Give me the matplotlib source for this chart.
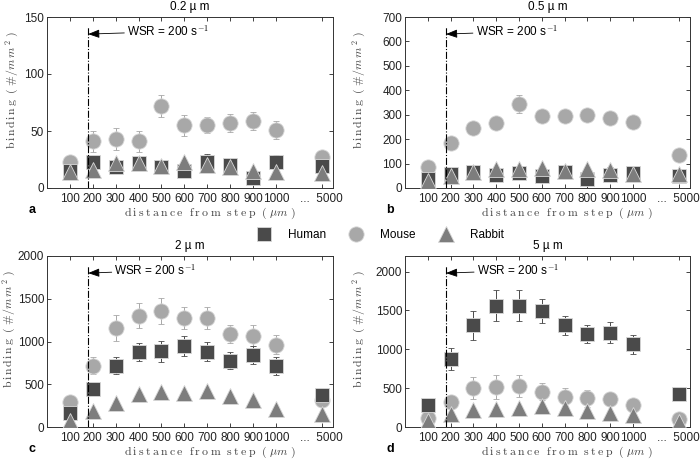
import numpy as np
import matplotlib.pyplot as plt
from matplotlib.lines import Line2D

plt.rcParams['font.family'] = ['Liberation Sans', 'DejaVu Sans']
plt.rcParams['mathtext.fontset'] = 'cm'

# ------------------------------------------------------------------------------
# data: binding (#/mm^2) vs distance from step, per particle size
dist_labels = ['100', '200', '300', '400', '500', '600', '700', '800', '900', '1000', '...  5000']
xpos = [1, 2, 3, 4, 5, 6, 7, 8, 9, 10, 12]

titles = ['0.2 µ m', '0.5 µ m', '2 µ m', '5 µ m']
panel_letters = ['a', 'b', 'c', 'd']

human_02 = [15, 23, 18, 22, 18, 15, 23, 20, 9, 23, 19]
human_02_err = [3, 4, 3, 3, 3, 3, 7, 4, 3, 6, 3]
mouse_02 = [23, 41, 43, 41, 72, 55, 55, 57, 59, 51, 27]
mouse_02_err = [3, 9, 10, 9, 10, 9, 7, 8, 8, 8, 3]
rabbit_02 = [14, 16, 22, 22, 19, 23, 20, 18, 15, 14, 13]
rabbit_02_err = [2, 2, 2, 2, 2, 2, 2, 2, 2, 2, 2]

human_05 = [37, 57, 64, 54, 61, 50, 64, 37, 54, 61, 48]
human_05_err = [8, 10, 12, 10, 12, 10, 10, 8, 10, 10, 8]
mouse_05 = [84, 186, 247, 265, 343, 295, 295, 299, 288, 270, 136]
mouse_05_err = [8, 10, 12, 12, 36, 12, 12, 12, 12, 12, 8]
rabbit_05 = [30, 50, 64, 77, 77, 82, 68, 77, 75, 57, 57]
rabbit_05_err = [5, 8, 10, 10, 10, 10, 10, 10, 10, 8, 8]

human_2 = [163, 447, 718, 874, 885, 944, 882, 777, 843, 718, 377]
human_2_err = [40, 58, 97, 105, 125, 116, 108, 97, 108, 105, 40]
mouse_2 = [291, 718, 1157, 1301, 1359, 1270, 1274, 1087, 1068, 963, 311]
mouse_2_err = [30, 97, 150, 148, 155, 128, 124, 105, 120, 113, 30]
rabbit_2 = [66, 186, 283, 381, 408, 396, 419, 357, 311, 206, 148]
rabbit_2_err = [10, 20, 25, 30, 30, 30, 30, 25, 25, 20, 15]

human_5 = [277, 872, 1306, 1562, 1562, 1489, 1306, 1191, 1213, 1064, 426]
human_5_err = [30, 140, 183, 204, 195, 157, 128, 115, 136, 123, 30]
mouse_5 = [115, 328, 498, 519, 532, 455, 383, 370, 362, 289, 98]
mouse_5_err = [20, 90, 140, 153, 140, 107, 115, 107, 93, 60, 20]
rabbit_5 = [72, 170, 221, 234, 247, 268, 247, 204, 183, 149, 64]
rabbit_5_err = [10, 20, 25, 25, 25, 25, 25, 20, 20, 20, 10]

human = [(human_02, human_02_err), (human_05, human_05_err), (human_2, human_2_err), (human_5, human_5_err)]
mouse = [(mouse_02, mouse_02_err), (mouse_05, mouse_05_err), (mouse_2, mouse_2_err), (mouse_5, mouse_5_err)]
rabbit = [(rabbit_02, rabbit_02_err), (rabbit_05, rabbit_05_err), (rabbit_2, rabbit_2_err), (rabbit_5, rabbit_5_err)]

ylims = [150, 700, 2000, 2200]
yticks = [np.arange(0, 151, 50), np.arange(0, 701, 100), np.arange(0, 2001, 500), np.arange(0, 2001, 500)]
text_x = [3.5, 3.1, 2.95, 3.15]

c_human = '#4a4a4a'
c_mouse = '#a8a8a8'
c_rabbit = '#7d7d7d'

# axes boxes in pixels (left, right, top, bottom) of a 700x459 figure
boxes = [(47, 333, 17, 188), (405, 690, 17, 188), (47, 333, 256, 427), (405, 690, 256, 427)]
ylabel_x = [-0.09, -0.13, -0.10, -0.13]

fig = plt.figure(figsize=(7, 4.59), dpi=100)

ylabel = r'$\mathrm{b\,i\,n\,d\,i\,n\,g}\ \ (\ \#/m\,m^{\,2}\ )$'
xlabel = r'$\mathrm{d\:i\:s\:t\:a\:n\:c\:e\ \ f\:r\:o\:m\ \ s\:t\:e\:p}\ \ (\ \mu m\ )$'

for i in range(4):
    l, r, t, b = boxes[i]
    ax = fig.add_axes([l / 700, 1 - b / 459, (r - l) / 700, (b - t) / 459])

    for (vals, err), col, mk, ms, z in [(mouse[i], c_mouse, 'o', 11, 3),
                                         (human[i], c_human, 's', 9.5, 4),
                                         (rabbit[i], c_rabbit, '^', 11, 5)]:
        ax.errorbar(xpos, vals, yerr=err, fmt=mk, color=col, ms=ms, mec='#d8d8d8', mew=0.6,
                    elinewidth=0.7, capsize=2, capthick=0.7, zorder=z)

    ax.axvline(1.8, ymin=0, ymax=0.95, color='k', lw=0.8, ls='-.', zorder=6)
    ax.annotate('WSR = 200 s$^{-1}$', xy=(1.8, 0.9), xycoords=('data', 'axes fraction'),
                xytext=(text_x[i], 0.915), textcoords=('data', 'axes fraction'),
                fontsize=8.5, va='center', ha='left',
                arrowprops=dict(arrowstyle='-|>,head_length=0.8,head_width=0.3', color='k', lw=0.6,
                                shrinkA=0, shrinkB=0))

    ax.set_xlim(0, 12.5)
    ax.set_ylim(0, ylims[i])
    ax.set_xticks(xpos)
    ax.set_xticklabels(dist_labels)
    ax.set_yticks(yticks[i])
    ax.tick_params(direction='in', top=True, right=True, labelsize=8.5, length=3, width=0.6, colors='#222222')
    ax.tick_params(axis='y', pad=2)
    for s in ax.spines.values():
        s.set_linewidth(0.7)
        s.set_color('#333333')
    ax.set_title(titles[i], fontsize=8.5, pad=5)
    ax.set_ylabel(ylabel, fontsize=8.5, color='#444444')
    ax.set_xlabel(xlabel, fontsize=8.5, color='#444444')
    ax.xaxis.set_label_coords(0.57, -0.104)
    ax.yaxis.set_label_coords(ylabel_x[i], 0.57)
    fig.text((l - 15) / 700, 1 - (b + 22) / 459, panel_letters[i], fontsize=9, fontweight='bold',
             ha='center', va='center')

handles = [Line2D([], [], ls='', marker='s', color=c_human, ms=9.5, mec='#d8d8d8', mew=0.6),
           Line2D([], [], ls='', marker='o', color=c_mouse, ms=11, mec='#d8d8d8', mew=0.6),
           Line2D([], [], ls='', marker='^', color=c_rabbit, ms=11, mec='#d8d8d8', mew=0.6)]
fig.legend(handles, ['Human', 'Mouse', 'Rabbit'], loc='center', bbox_to_anchor=(0.54, 1 - 235 / 459),
           ncol=3, frameon=False, fontsize=8.5, handletextpad=1.0, columnspacing=1.6)

fig.savefig('out.png', dpi=100)
